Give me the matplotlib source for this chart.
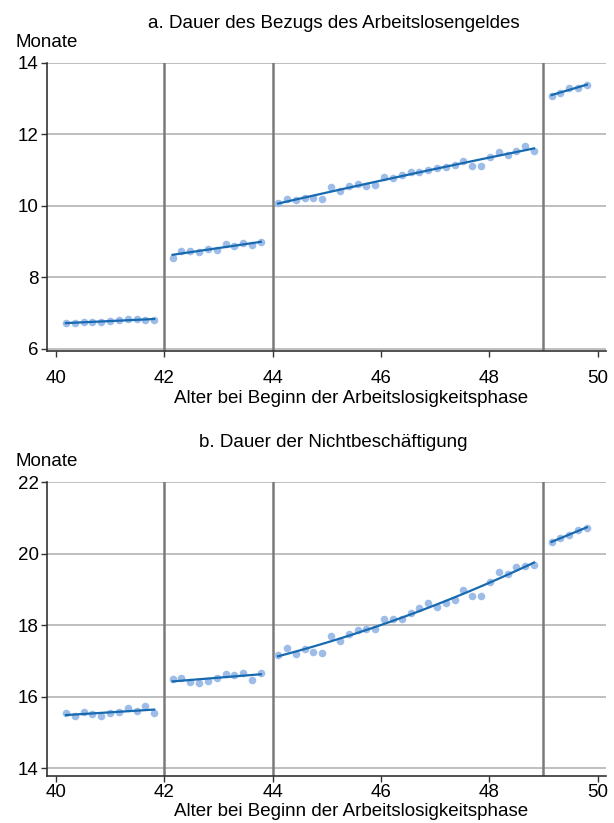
import numpy as np
import matplotlib
matplotlib.use('Agg')
import matplotlib.pyplot as plt

plt.rcParams['font.family'] = ['Liberation Sans', 'DejaVu Sans']

# age grid per segment (start, number of points)
segments = [(40.18, 11), (42.15, 11), (44.10, 30), (49.15, 5)]
step = 0.163
cutoffs = [42, 44, 49]

# a. Dauer des Bezugs des Arbeitslosengeldes (Monate)
a_vals = [
    [6.72, 6.72, 6.75, 6.76, 6.76, 6.77, 6.82, 6.84, 6.84, 6.81, 6.80],
    [8.55, 8.75, 8.73, 8.70, 8.79, 8.78, 8.93, 8.89, 8.97, 8.90, 8.98],
    [10.08, 10.20, 10.17, 10.22, 10.22, 10.19, 10.53, 10.42, 10.56, 10.61,
     10.57, 10.58, 10.82, 10.79, 10.86, 10.95, 10.95, 11.00, 11.07, 11.09,
     11.15, 11.26, 11.13, 11.13, 11.38, 11.51, 11.43, 11.54, 11.67, 11.53],
    [13.08, 13.17, 13.31, 13.30, 13.38],
]

# b. Dauer der Nichtbeschäftigung (Monate)
b_vals = [
    [15.53, 15.45, 15.57, 15.50, 15.45, 15.54, 15.57, 15.69, 15.59, 15.73, 15.53],
    [16.48, 16.52, 16.40, 16.37, 16.43, 16.52, 16.63, 16.61, 16.67, 16.46, 16.67],
    [17.15, 17.36, 17.18, 17.34, 17.25, 17.23, 17.70, 17.55, 17.74, 17.85,
     17.88, 17.89, 18.17, 18.17, 18.17, 18.33, 18.48, 18.62, 18.51, 18.61,
     18.69, 18.97, 18.80, 18.81, 19.21, 19.48, 19.43, 19.63, 19.65, 19.69],
    [20.32, 20.43, 20.53, 20.65, 20.72],
]

titles = ['a. Dauer des Bezugs des Arbeitslosengeldes', 'b. Dauer der Nichtbeschäftigung']
xlabel = 'Alter bei Beginn der Arbeitslosigkeitsphase'
a_ticks = [6, 8, 10, 12, 14]
b_ticks = [14, 16, 18, 20, 22]
x_ticks = [40, 42, 44, 46, 48, 50]

dot_color = '#9dbde8'
line_color = '#1769b0'
fs = 13.5

fig = plt.figure(figsize=(6.14, 8.23), dpi=100)
ax1 = fig.add_axes([0.0765, 0.5738, 0.910, 0.3497])
ax2 = fig.add_axes([0.0765, 0.0572, 0.910, 0.3571])

panels = [(ax1, a_vals, titles[0], a_ticks, (5.95, 14.0), 10),
          (ax2, b_vals, titles[1], b_ticks, (13.78, 22.0), 1.5)]

for ax, vals, title, yt, ylim, xpad in panels:
    for (start, n), v in zip(segments, vals):
        x = start + step * np.arange(n)
        ax.scatter(x, v, s=30, color=dot_color, zorder=3, linewidths=0)
        deg = 2 if n > 20 else 1
        coef = np.polyfit(x, v, deg)
        xf = np.linspace(x[0], x[-1], 50)
        ax.plot(xf, np.polyval(coef, xf), color=line_color, lw=1.6, zorder=4)
    for c in cutoffs:
        ax.axvline(c, color='#7a7a7a', lw=1.8, zorder=1)
    for t in yt:
        ax.axhline(t, color='#b4b4b4', lw=1.2, zorder=0)
    ax.set_xlim(39.83, 50.15)
    ax.set_ylim(*ylim)
    ax.set_yticks(yt)
    ax.set_xticks(x_ticks)
    ax.spines['top'].set_visible(False)
    ax.spines['right'].set_visible(False)
    for s in ['left', 'bottom']:
        ax.spines[s].set_color('#333333')
        ax.spines[s].set_linewidth(1.2)
    ax.tick_params(labelsize=fs, length=4, width=1, color='#333333')
    ax.tick_params(axis='x', pad=xpad)
    ax.tick_params(axis='y', pad=2)
    ax.set_xlabel(xlabel, fontsize=fs, labelpad=2, x=0.545)
    ax.set_title(title, fontsize=fs, pad=25, x=0.513)
    ax.text(-0.056, 1.04, 'Monate', transform=ax.transAxes, fontsize=fs,
            ha='left', va='bottom')

fig.savefig('out.png', dpi=100)
